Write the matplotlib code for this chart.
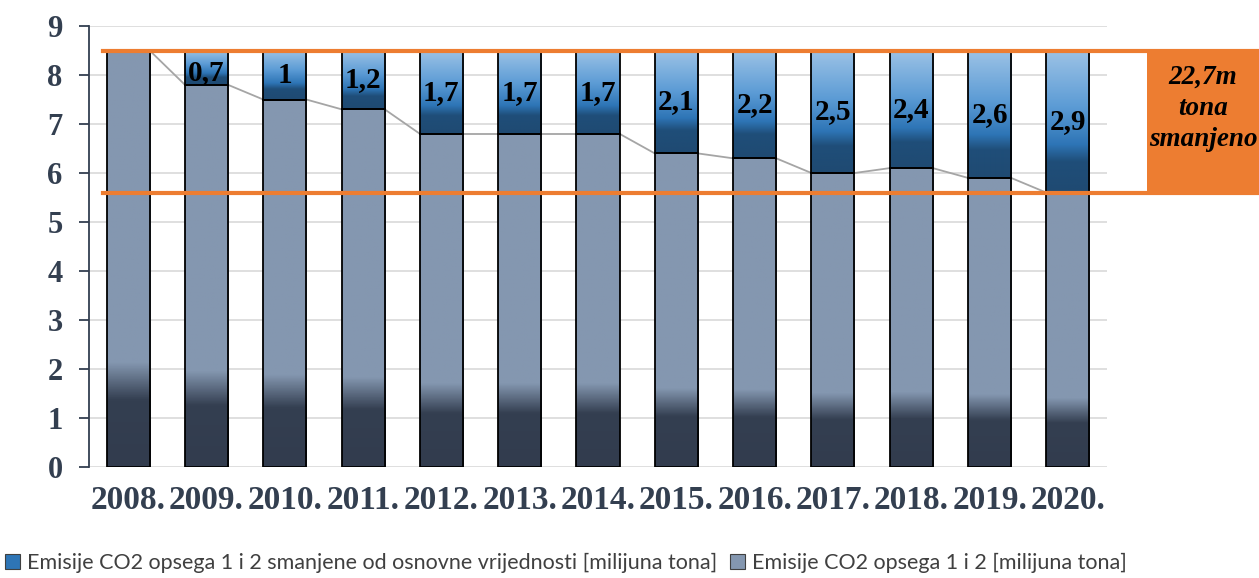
import numpy as np
import matplotlib.pyplot as plt
from matplotlib.colors import LinearSegmentedColormap
from matplotlib.patches import Rectangle, Patch
from matplotlib.transforms import blended_transform_factory

godine = ['2008.', '2009.', '2010.', '2011.', '2012.', '2013.', '2014.',
          '2015.', '2016.', '2017.', '2018.', '2019.', '2020.']
emisije = [8.5, 7.8, 7.5, 7.3, 6.8, 6.8, 6.8, 6.4, 6.3, 6.0, 6.1, 5.9, 5.6]
smanjenje = [0, 0.7, 1, 1.2, 1.7, 1.7, 1.7, 2.1, 2.2, 2.5, 2.4, 2.6, 2.9]
ukupno_smanjeno = '22,7m\ntona\nsmanjeno'

narandzasta = '#ed7d31'
tamno = '#333f50'

cmap_siva = LinearSegmentedColormap.from_list(
    'siva', [(0, '#323c4e'), (0.16, '#343f51'), (0.25, '#8497b0'), (1, '#8497b0')])
cmap_plava = LinearSegmentedColormap.from_list(
    'plava', [(0, '#1f4a72'), (0.22, '#1f4e79'), (0.34, '#2e75b6'), (0.6, '#5b9bd5'), (1, '#9dc3e6')])


def gradijent(ax, bars, cmap):
    # gradijent unutar svakog stupca
    for b in bars:
        x0, y0 = b.get_xy()
        w, h = b.get_width(), b.get_height()
        if h <= 0:
            continue
        ax.imshow(np.linspace(0, 1, 256).reshape(-1, 1), extent=[x0, x0 + w, y0, y0 + h],
                  origin='lower', aspect='auto', cmap=cmap, zorder=2)


fig = plt.figure(figsize=(12.59, 5.78), dpi=100)
ax = fig.add_axes([0.0707, 0.192, 0.8086, 0.763])

x = np.arange(len(godine))
sirina = 0.55

b1 = ax.bar(x, emisije, sirina, facecolor='none', edgecolor='black', linewidth=1.3, zorder=3)
b2 = ax.bar(x, smanjenje, sirina, bottom=emisije, facecolor='none', edgecolor='black',
            linewidth=1.3, zorder=3)
gradijent(ax, b1, cmap_siva)
gradijent(ax, b2, cmap_plava)

# spojne linije izmedu stupaca
for i in range(len(x) - 1):
    ax.plot([x[i] + sirina / 2, x[i + 1] - sirina / 2], [emisije[i], emisije[i + 1]],
            color='#a5a5a5', linewidth=1.3, zorder=2.5)

# oznake podataka
for i in range(1, len(x)):
    yy = emisije[i] + smanjenje[i] / 2
    if smanjenje[i] < 1:
        yy -= 0.1
    ax.text(x[i], yy, f'{smanjenje[i]:g}'.replace('.', ','),
            ha='center', va='center', fontsize=21, fontweight='bold',
            family='Liberation Serif', color='black', zorder=5)

ax.set_xlim(-0.5, len(x) - 0.5)
ax.set_ylim(0, 9)
ax.set_yticks(range(10))
ax.set_xticks(x)
ax.set_xticklabels(godine)
ax.yaxis.grid(True, color='#d9d9d9', linewidth=1.2, zorder=0)
ax.set_axisbelow(True)

for s in ['top', 'right', 'bottom']:
    ax.spines[s].set_visible(False)
ax.spines['left'].set_color(tamno)
ax.spines['left'].set_linewidth(1.3)
ax.tick_params(axis='y', length=7, width=1.3, color=tamno, pad=12)
ax.tick_params(axis='x', length=0, pad=13)
for lab in ax.get_yticklabels():
    lab.set_fontsize(22)
for lab in ax.get_xticklabels():
    lab.set_fontsize(24)
for lab in ax.get_xticklabels() + ax.get_yticklabels():
    lab.set_family('Liberation Serif')
    lab.set_fontweight('bold')
    lab.set_color(tamno)

# narandzasti okvir smanjenja
vrh = emisije[0]
dno = emisije[-1]
ax.plot([-0.32, 15], [vrh, vrh], color=narandzasta, linewidth=3, clip_on=False, zorder=6)
ax.plot([-0.32, 15], [dno, dno], color=narandzasta, linewidth=3, clip_on=False, zorder=6)
tr = blended_transform_factory(fig.transFigure, ax.transData)
ax.add_patch(Rectangle((0.911, dno), 0.1, vrh - dno, transform=tr, facecolor=narandzasta,
                       edgecolor='none', clip_on=False, zorder=6))
ax.text(0.9555, (vrh + dno) / 2 + 0.27, ukupno_smanjeno, transform=tr, ha='center', va='center',
        fontsize=19.5, fontweight='bold', fontstyle='italic', family='Liberation Serif',
        linespacing=1.3, color='black', zorder=7)

rucke = [Patch(facecolor='#2e75b6', edgecolor='#404040', linewidth=0.8,
               label='Emisije CO2 opsega 1 i 2 smanjene od osnovne vrijednosti [milijuna tona]'),
         Patch(facecolor='#8497b0', edgecolor='#404040', linewidth=0.8,
               label='Emisije CO2 opsega 1 i 2 [milijuna tona]')]
fig.legend(handles=rucke, loc='lower left', bbox_to_anchor=(-0.006, -0.014), ncol=2, frameon=False,
           prop={'family': 'Lato', 'size': 15.5}, labelcolor='#404040',
           handlelength=0.7, handleheight=0.7, handletextpad=0.3, columnspacing=0.6,
           borderaxespad=0.2)

fig.savefig('out.png', dpi=100)
